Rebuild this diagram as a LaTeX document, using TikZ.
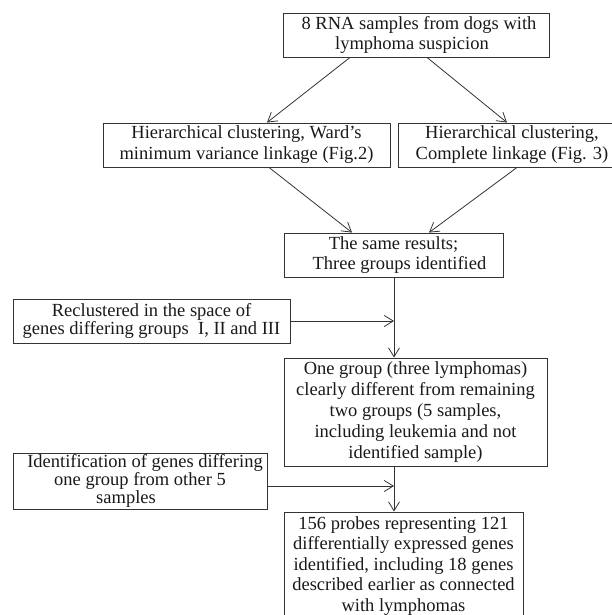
\documentclass[tikz,border=0pt]{standalone}
\usepackage{fontspec}
\setmainfont{Liberation Serif}
\usetikzlibrary{arrows.meta}
\begin{document}
\begin{tikzpicture}[x=1pt,y=-1pt,
  box/.style={draw=black!80, line width=0.9pt, inner sep=0pt, align=center,
    text=black!90, font=\fontsize{18.5}{20}\selectfont},
  conn/.style={draw=black!80, line width=0.8pt, -{Straight Barb[length=9pt,width=11pt]}}]
\useasboundingbox (0,0) rectangle (611,615);

\node[box, minimum width=266pt, minimum height=44pt] (b1) at (416,35)
  {\hspace*{6pt}8 RNA samples from dogs with\\ lymphoma suspicion\hspace*{8pt}};
\node[box, minimum width=287pt, minimum height=44pt, font=\fontsize{18.5}{21}\selectfont] (b2) at (246.5,145)
  {Hierarchical clustering, Ward's\\ minimum variance linkage (Fig.2)};
\node[box, minimum width=228pt, minimum height=44pt, font=\fontsize{18.5}{21}\selectfont] (b3) at (512,145)
  {Hierarchical clustering,\\ Complete linkage (Fig. 3)};
\node[box, minimum width=219pt, minimum height=44pt] (b4) at (393.5,255)
  {The same results;\\ \hspace*{12pt}Three groups identified};
\node[box, minimum width=277pt, minimum height=44pt, font=\fontsize{18.5}{17.5}\selectfont] (b5) at (151.5,321)
  {Reclustered in the space of\\ genes differing groups\ \ I, II and III};
\node[box, minimum width=263pt, minimum height=108pt, font=\fontsize{18.5}{21}\selectfont] (b6) at (415.5,412)
  {One group (three lymphomas)\\ clearly different from remaining\\ two groups (5 samples,\\ including leukemia and not\\ identified sample)};
\node[box, minimum width=254pt, minimum height=56pt, font=\fontsize{18.5}{16.7}\selectfont] (b7) at (140,481)
  {\hspace*{10pt}Identification of genes differing\\ one group from other 5\hspace*{6pt}\\ samples\hspace*{28pt}};
\node[box, minimum width=239pt, minimum height=108pt, font=\fontsize{18.5}{20.5}\selectfont] (b8) at (403.5,566)
  {156 probes representing 121\\ differentially expressed genes\\ identified, including 18 genes\\ described earlier as connected\\ with lymphomas};

\coordinate (spine) at (394,0);

\draw[conn] ([xshift=-66pt]b1.south) -- ([xshift=20.5pt]b2.north);
\draw[conn] ([xshift=11pt]b1.south) -- ([xshift=-5pt]b3.north);
\draw[conn] ([xshift=22.5pt]b2.south) -- ([xshift=-41.5pt]b4.north);
\draw[conn] ([xshift=5pt]b3.south) -- ([xshift=35.5pt]b4.north);
\draw[conn] (b4.south -| spine) -- (b6.north -| spine);
\draw[conn] (b5.east) -- (b5.east -| spine);
\draw[conn] (b6.south -| spine) -- (b8.north -| spine);
\draw[conn] ([yshift=-5pt,xshift=1pt]b7.east) -- ([yshift=-5pt]b7.east -| spine);
\end{tikzpicture}
\end{document}
